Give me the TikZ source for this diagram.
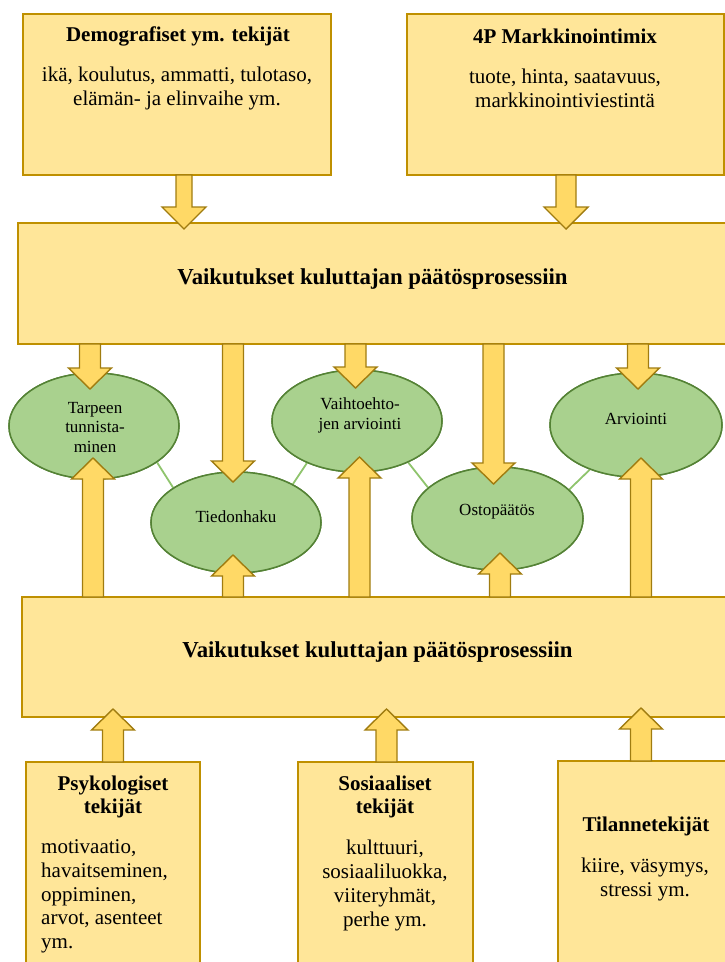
\documentclass[tikz,border=0pt]{standalone}
\usepackage{fontspec}
\setmainfont{Liberation Serif}
\usetikzlibrary{shapes.geometric}

\definecolor{boxfill}{HTML}{FFE699}
\definecolor{boxline}{HTML}{BF9000}
\definecolor{arrfill}{HTML}{FFD966}
\definecolor{arrline}{HTML}{A07C10}
\definecolor{ellfill}{HTML}{A9D18E}
\definecolor{ellline}{HTML}{548235}
\definecolor{linkgreen}{HTML}{8FC46D}

% block arrows: x, tail y, tip y (y grows downwards)
\newcommand\blockdown[3]{%
  \draw[blockarrow] (#1-10.5,#2) -- (#1-10.5,#3-21) -- (#1-21.5,#3-21) -- (#1,#3)
    -- (#1+21.5,#3-21) -- (#1+10.5,#3-21) -- (#1+10.5,#2) -- cycle;}
\newcommand\blockup[3]{%
  \draw[blockarrow] (#1-10.5,#2) -- (#1-10.5,#3+21) -- (#1-21.5,#3+21) -- (#1,#3)
    -- (#1+21.5,#3+21) -- (#1+10.5,#3+21) -- (#1+10.5,#2) -- cycle;}

\tikzset{
  ybox/.style={draw=boxline, fill=boxfill, line width=1.6pt, rectangle, inner sep=0pt},
  blockarrow/.style={draw=arrline, fill=arrfill, line width=1.4pt, line join=miter},
  stage/.style={draw=ellline, fill=ellfill, line width=1.5pt, ellipse, inner sep=0pt},
  glink/.style={draw=linkgreen, line width=1.8pt},
  boxtitle/.style={font=\fontsize{21}{23}\selectfont\bfseries, align=center, inner sep=0pt},
  bigtitle/.style={font=\fontsize{22.8}{26}\selectfont\bfseries, inner sep=0pt},
  boxbody/.style={font=\fontsize{21}{24}\selectfont, align=center, inner sep=0pt},
  stagetext/.style={font=\fontsize{17}{19.8}\selectfont, align=center, inner sep=0pt},
}

\begin{document}
\begin{tikzpicture}[x=1pt, y=-1pt]
\useasboundingbox (0,0) rectangle (725,962);

% source boxes on top
\node[ybox, minimum width=308, minimum height=161] (demo) at (177,94.5) {};
\node[ybox, minimum width=317, minimum height=161] (mix) at (565.5,94.5) {};
\node[boxtitle] (demot) at (178,36) {Demografiset ym. tekijät};
\node[boxbody] (demob) at (177,88) {ikä, koulutus, ammatti, tulotaso,\\elämän- ja elinvaihe ym.};
\node[boxtitle] (mixt) at (565,36) {4P Markkinointimix};
\node[boxbody] (mixb) at (565,88) {tuote, hinta, saatavuus,\\markkinointiviestintä};

% the two influence bands
\node[ybox, minimum width=717, minimum height=121] (infa) at (376.5,283.5) {};
\node[ybox, minimum width=713, minimum height=120] (infb) at (378.5,657) {};
\node[bigtitle] (infat) at (372.5,279) {Vaikutukset kuluttajan päätösprosessiin};
\node[bigtitle] (infbt) at (377.5,652) {Vaikutukset kuluttajan päätösprosessiin};

% source boxes at the bottom
\node[ybox, minimum width=174, minimum height=213] (psy) at (113,868.5) {};
\node[ybox, minimum width=175, minimum height=213] (sos) at (385.5,868.5) {};
\node[ybox, minimum width=177, minimum height=214] (til) at (646.5,868) {};
\node[boxtitle] (psyt) at (113,796.5) {Psykologiset\\tekijät};
\node[boxbody, align=left, anchor=west, font=\fontsize{21}{23.8}\selectfont] (psyb) at (41,896.5)
  {motivaatio,\\havaitseminen,\\oppiminen,\\arvot, asenteet\\ym.};
\node[boxtitle] (sost) at (385,796.5) {Sosiaaliset\\tekijät};
\node[boxbody, font=\fontsize{21}{23.7}\selectfont] (sosb) at (385,885.5)
  {kulttuuri,\\sosiaaliluokka,\\viiteryhmät,\\perhe ym.};
\node[boxtitle] (tilt) at (646,826) {Tilannetekijät};
\node[boxbody] (tilb) at (645,879) {kiire, väsymys,\\stressi ym.};

% decision process stages
\node[stage, minimum width=170, minimum height=106] (need) at (94,426) {};
\node[stage, minimum width=170, minimum height=101] (search) at (236,522.5) {};
\node[stage, minimum width=170, minimum height=102] (alt) at (357,421) {};
\node[stage, minimum width=171, minimum height=103] (buy) at (497.5,518.5) {};
\node[stage, minimum width=172, minimum height=104] (eval) at (636,425) {};

\draw[glink] (need.-30) -- (search.151);
\draw[glink] (search.34) -- (alt.-140);
\draw[glink] (alt.-39) -- (buy.156);
\draw[glink] (buy.22) -- (eval.-136);

% stages drawn again on top of the links
\node[stage, minimum width=170, minimum height=106] at (need) {};
\node[stage, minimum width=170, minimum height=101] at (search) {};
\node[stage, minimum width=170, minimum height=102] at (alt) {};
\node[stage, minimum width=171, minimum height=103] at (buy) {};
\node[stage, minimum width=172, minimum height=104] at (eval) {};

\node[stagetext] (needt) at (95,427.5) {Tarpeen\\tunnista-\\minen};
\node[stagetext] (searcht) at (236,517) {Tiedonhaku};
\node[stagetext] (altt) at (360,415.5) {Vaihtoehto-\\jen arviointi};
\node[stagetext] (buyt) at (497,512) {Ostopäätös};
\node[stagetext] (evalt) at (636,419) {Arviointi};

% arrows from the top boxes into the upper band
\draw[blockarrow] (176,175) -- (176,207) -- (162,207) -- (184,229) -- (206,207) -- (192,207) -- (192,175) -- cycle;
\draw[blockarrow] (556,175) -- (556,207) -- (544,207) -- (566,229) -- (588,207) -- (576,207) -- (576,175) -- cycle;

% arrows from the upper band to the stages
\blockdown{90}{344}{389}
\blockdown{233}{344}{482}
\blockdown{355.5}{344}{388}
\blockdown{493.5}{344}{484}
\blockdown{638}{344}{389}

% arrows from the lower band to the stages
\blockup{93}{597}{458}
\blockup{233}{597}{555}
\blockup{359.5}{597}{457}
\blockup{500}{597}{553}
\blockup{641}{597}{458}

% arrows from the bottom boxes into the lower band
\blockup{113}{762}{709}
\blockup{386.5}{762}{709}
\blockup{641}{761}{708}
\end{tikzpicture}
\end{document}
